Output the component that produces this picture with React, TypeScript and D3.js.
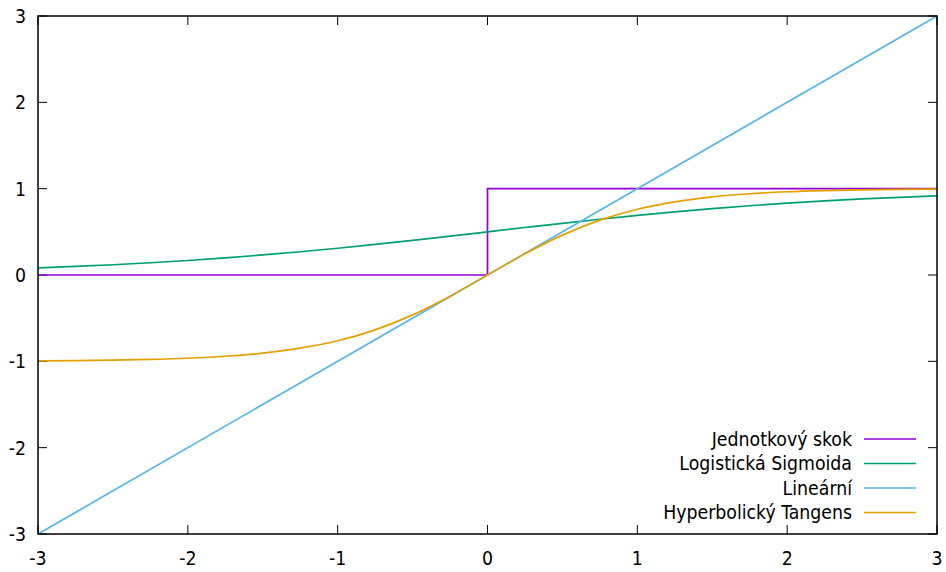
import React from "react";
import * as d3 from "d3";

const W = 946;
const H = 572;

const xTicks = [-3, -2, -1, 0, 1, 2, 3];
const yTicks = [-3, -2, -1, 0, 1, 2, 3];

const sampleX = [
  -3, -2.75, -2.5, -2.25, -2, -1.75, -1.5, -1.25, -1, -0.75, -0.5, -0.25, 0,
  0.25, 0.5, 0.75, 1, 1.25, 1.5, 1.75, 2, 2.25, 2.5, 2.75, 3,
];

const stepX = [-3, 0, 3];
const stepY = [0, 1, 1];

const sigmoidY = [
  0.083, 0.1, 0.119, 0.142, 0.168, 0.198, 0.232, 0.269, 0.31, 0.354, 0.401,
  0.45, 0.5, 0.55, 0.599, 0.646, 0.69, 0.731, 0.769, 0.802, 0.832, 0.858,
  0.881, 0.9, 0.917,
];

const linearX = [-3, 3];
const linearY = [-3, 3];

const tanhY = [
  -0.995, -0.992, -0.987, -0.978, -0.964, -0.941, -0.905, -0.848, -0.762,
  -0.635, -0.462, -0.245, 0, 0.245, 0.462, 0.635, 0.762, 0.848, 0.905, 0.941,
  0.964, 0.978, 0.987, 0.992, 0.995,
];

const seriesNames = [
  "Jednotkový skok",
  "Logistická Sigmoida",
  "Lineární",
  "Hyperbolický Tangens",
];
const colors = ["#9400d3", "#009e73", "#56b4e9", "#e69f00"];

export default function App() {
  const left = 38,
    right = 937,
    top = 16,
    bottom = 534;
  const x = d3.scaleLinear().domain([-3, 3]).range([left, right]);
  const y = d3.scaleLinear().domain([-3, 3]).range([bottom, top]);
  const font = "'DejaVu Sans Condensed', 'DejaVu Sans', sans-serif";
  const fs = 19.3;
  const tickLen = 9;

  const zip = (xs: number[], ys: number[]) => xs.map((v, i) => [v, ys[i]] as [number, number]);

  const stepLine = d3
    .line<[number, number]>()
    .x((d) => x(d[0]))
    .y((d) => y(d[1]))
    .curve(d3.curveStepAfter);
  const smooth = d3
    .line<[number, number]>()
    .x((d) => x(d[0]))
    .y((d) => y(d[1]))
    .curve(d3.curveMonotoneX);
  const straight = d3
    .line<[number, number]>()
    .x((d) => x(d[0]))
    .y((d) => y(d[1]));

  const paths = [
    stepLine(zip(stepX, stepY)),
    smooth(zip(sampleX, sigmoidY)),
    straight(zip(linearX, linearY)),
    smooth(zip(sampleX, tanhY)),
  ];

  const legendRight = 852;
  const legendY0 = 439;
  const legendDy = 24.5;

  return (
    <svg
      width={W}
      height={H}
      style={{ position: "absolute", left: 0, top: 0, background: "#fff" }}
    >
      <defs>
        <clipPath id="plot">
          <rect x={left} y={top} width={right - left} height={bottom - top} />
        </clipPath>
      </defs>
      {xTicks.map((t) => (
        <g key={"xt" + t}>
          <line x1={x(t)} x2={x(t)} y1={bottom} y2={bottom - tickLen} stroke="#000" strokeWidth={1} />
          <line x1={x(t)} x2={x(t)} y1={top} y2={top + tickLen} stroke="#000" strokeWidth={1} />
          <text
            x={x(t)}
            y={bottom + 31}
            textAnchor="middle"
            fontFamily={font}
            fontSize={fs}
            fill="#000"
          >
            {t}
          </text>
        </g>
      ))}
      {yTicks.map((t) => (
        <g key={"yt" + t}>
          <line x1={left} x2={left + tickLen} y1={y(t)} y2={y(t)} stroke="#000" strokeWidth={1} />
          <line x1={right} x2={right - tickLen} y1={y(t)} y2={y(t)} stroke="#000" strokeWidth={1} />
          <text
            x={26}
            y={y(t)}
            dy="0.36em"
            textAnchor="end"
            fontFamily={font}
            fontSize={fs}
            fill="#000"
          >
            {t}
          </text>
        </g>
      ))}
      <g clipPath="url(#plot)">
        {paths.map((p, i) => (
          <path key={i} d={p || ""} fill="none" stroke={colors[i]} strokeWidth={1.7} />
        ))}
      </g>
      <rect
        x={left}
        y={top}
        width={right - left}
        height={bottom - top}
        fill="none"
        stroke="#000"
        strokeWidth={1.5}
      />
      {seriesNames.map((n, i) => (
        <g key={n}>
          <text
            x={legendRight}
            y={legendY0 + i * legendDy}
            dy="0.36em"
            textAnchor="end"
            fontFamily={font}
            fontSize={fs}
            fill="#000"
          >
            {n}
          </text>
          <line
            x1={864}
            x2={916}
            y1={legendY0 + i * legendDy}
            y2={legendY0 + i * legendDy}
            stroke={colors[i]}
            strokeWidth={1.7}
          />
        </g>
      ))}
    </svg>
  );
}
